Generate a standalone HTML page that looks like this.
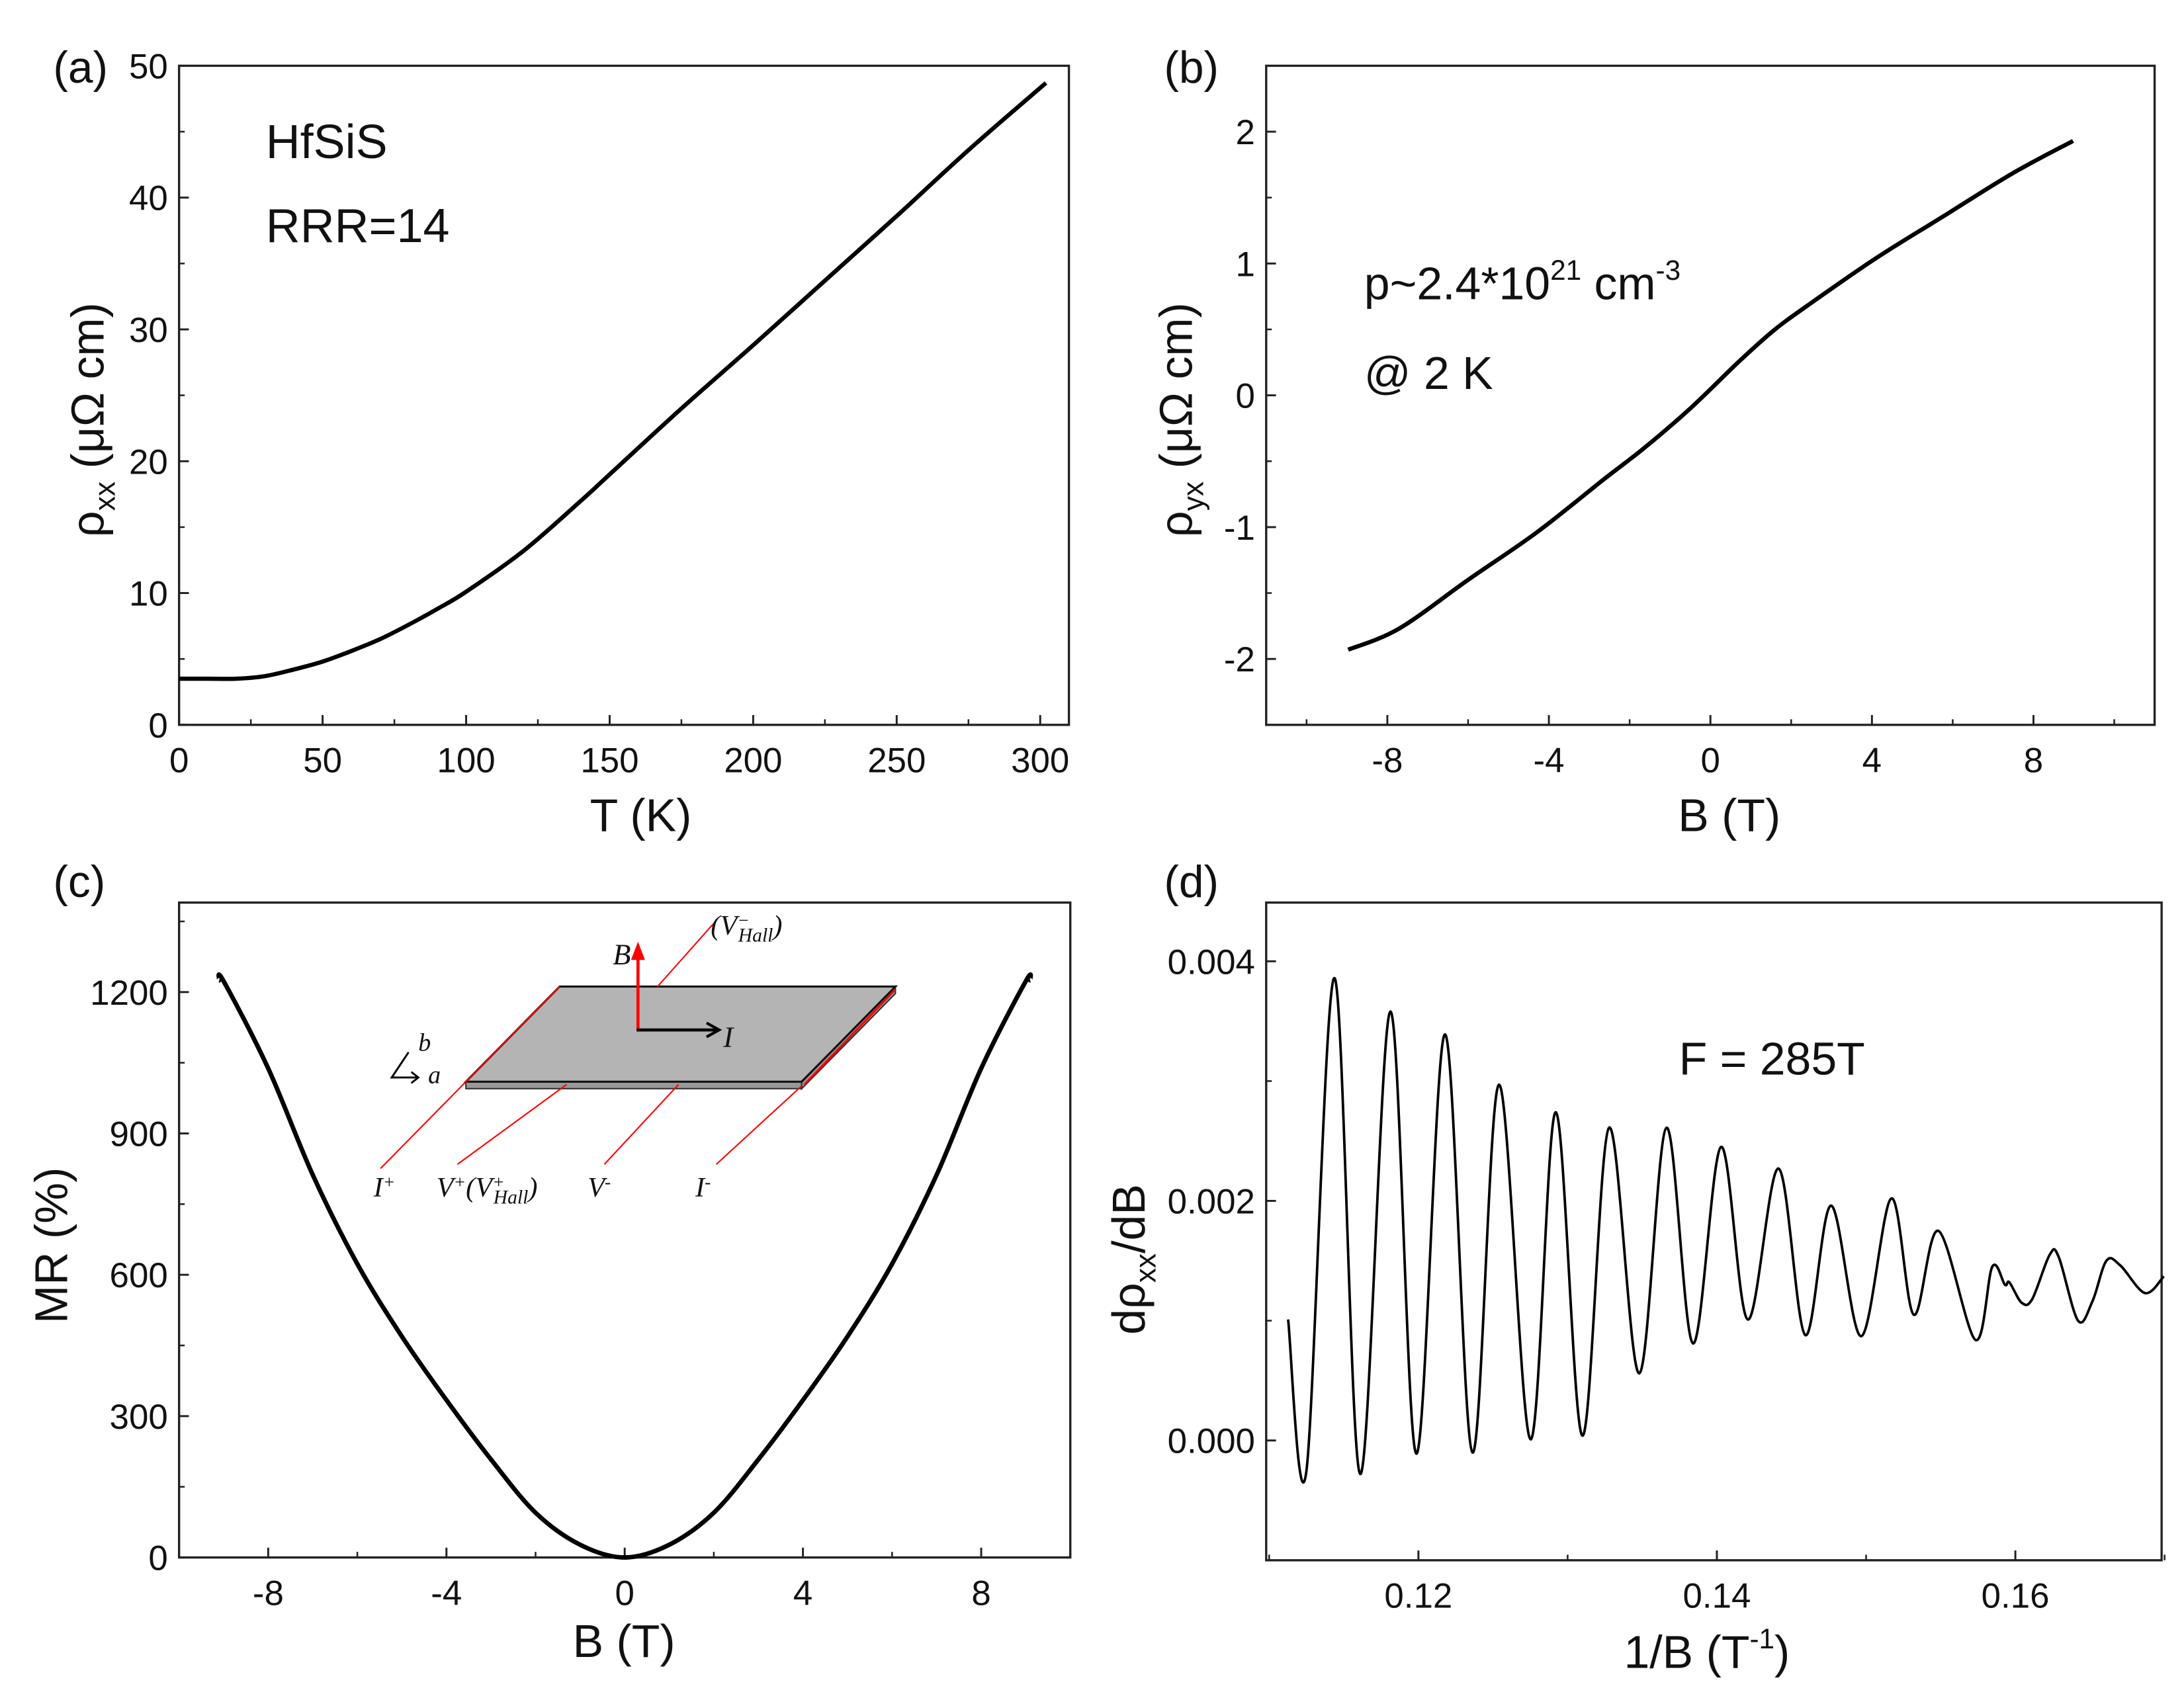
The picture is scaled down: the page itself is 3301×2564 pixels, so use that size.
<!DOCTYPE html>
<html><head><meta charset="utf-8"><style>
html,body{margin:0;padding:0;background:#fff;}
svg{display:block;}
text{font-family:"Liberation Sans",sans-serif;fill:#111;}
.ser{font-family:"Liberation Serif",serif;font-style:italic;}
</style></head><body>
<svg id="fig" width="3301" height="2564" viewBox="0 0 1561 1212" preserveAspectRatio="none" xmlns="http://www.w3.org/2000/svg">
<g id="layer"></g>
</svg>
<script>
// Panel (a) data
const aT = [0,10,20,30,40,50,60,70,80,90,100,120,140,150,175,200,225,250,275,302];
const aRho = [3.5,3.5,3.5,3.7,4.2,4.8,5.6,6.5,7.6,8.8,10.1,13.2,17.0,19.0,24.0,28.8,33.7,38.6,43.6,48.7];
// Panel (b) data
const bB = [-8.97,-7.71,-6.0,-4.3,-2.65,-1.64,-0.5,0.72,1.56,2.4,4.1,5.78,7.46,8.98];
const bRho = [-1.93,-1.77,-1.4,-1.04,-0.64,-0.40,-0.1,0.26,0.49,0.68,1.04,1.36,1.68,1.93];
// Panel (c) data
const cB = [-9.1,-9,-8,-7,-6,-5,-4,-3,-2,-1,0,1,2,3,4,5,6,7,8,9,9.1];
const cMR = [1225,1223,1038,812,623,469,334,208,95,27,0,27,95,208,334,469,623,812,1038,1223,1225];
// Panel (d) data
const dX = [0.11127,0.11249,0.11437,0.1161,0.11812,0.11986,0.12178,0.12362,0.1254,0.12751,0.1292,0.13099,0.13277,0.13479,0.13662,0.1384,0.14028,0.14207,0.14413,0.14592,0.14765,0.14967,0.15169,0.15319,0.15484,0.15732,0.15845,0.1593,0.1596,0.16042,0.16113,0.1623,0.16291,0.1642,0.16516,0.1661,0.16704,0.16869,0.16995];
const dY = [0.00101,-0.00026,0.00386,-0.00028,0.00358,-0.00011,0.00339,-0.0001,0.00297,0.00001,0.00274,0.00004,0.00261,0.00056,0.00261,0.00081,0.00245,0.00101,0.00227,0.00088,0.00196,0.00087,0.00202,0.00105,0.00175,0.00084,0.00145,0.0013,0.00132,0.00115,0.00118,0.00155,0.00153,0.001,0.00116,0.0015,0.00146,0.00123,0.00137];
// tick labels
const aXt = [0,50,100,150,200,250,300];
const aYt = [0,10,20,30,40,50];
const bXt = [-8,-4,0,4,8];
const bYt = [-2,-1,0,1,2];
const cXt = [-8,-4,0,4,8];
const cYt = [0,300,600,900,1200];
const dXt = [0.12,0.14,0.16];
const dYt = [0.000,0.002,0.004];

const NS="http://www.w3.org/2000/svg";
const L=document.getElementById('layer');
function mk(tag,attrs,parent){const e=document.createElementNS(NS,tag);for(const k in attrs)e.setAttribute(k,attrs[k]);(parent||L).appendChild(e);return e;}
function lin(d0,d1,r0,r1){return v=>r0+(v-d0)/(d1-d0)*(r1-r0);}
function spline(pts){let d='M'+pts[0][0]+','+pts[0][1];for(let i=0;i<pts.length-1;i++){const p0=pts[Math.max(0,i-1)],p1=pts[i],p2=pts[i+1],p3=pts[Math.min(pts.length-1,i+2)];const c1x=p1[0]+(p2[0]-p0[0])/6,c1y=p1[1]+(p2[1]-p0[1])/6,c2x=p2[0]-(p3[0]-p1[0])/6,c2y=p2[1]-(p3[1]-p1[1])/6;d+=` C${c1x},${c1y} ${c2x},${c2y} ${p2[0]},${p2[1]}`;}return d;}

function panel(name,box,xd,yd,xt,yt,xminor,yminor,fmtX,fmtY,xs,ys,sw){
  const g=mk('g',{});
  
  
  const X=lin(xd[0],xd[1],box.l,box.r), Y=lin(yd[0],yd[1],box.b,box.t);
  const fr=mk('rect',{x:box.l,y:box.t,width:box.r-box.l,height:box.b-box.t,fill:'none',stroke:'#222','stroke-width':1.6},g);
  
  
  xminor.forEach(v=>{mk('line',{x1:X(v),x2:X(v),y1:box.b,y2:box.b-4,stroke:'#222','stroke-width':1.2},g);});
  yminor.forEach(v=>{mk('line',{x1:box.l,x2:box.l+4,y1:Y(v),y2:Y(v),stroke:'#222','stroke-width':1.2},g);});
  xt.forEach(v=>{mk('line',{x1:X(v),x2:X(v),y1:box.b,y2:box.b-7,stroke:'#222','stroke-width':1.4},g);
    const t=mk('text',{x:X(v),y:box.b+34,'font-size':25,'text-anchor':'middle'},g);t.textContent=fmtX(v);
    
    });
  yt.forEach(v=>{mk('line',{x1:box.l,x2:box.l+7,y1:Y(v),y2:Y(v),stroke:'#222','stroke-width':1.4},g);
    const t=mk('text',{x:box.l-8,y:Y(v)+9,'font-size':25,'text-anchor':'end'},g);t.textContent=fmtY(v);
    
    });
  const pts=xs.map((v,i)=>[X(v),Y(ys[i])]);
  const p=mk('path',{d:spline(pts),fill:'none',stroke:'#000','stroke-width':sw,'stroke-linejoin':'round'},g);
  
  
  return g;
}
function range(a,b,s){const r=[];for(let v=a;v<=b+1e-9;v+=s)r.push(+v.toFixed(6));return r;}

panel('panel-a',{l:128,r:764,t:47,b:518},[0,310],[0,50],aXt,aYt,range(25,300,50),range(5,45,10),v=>v,v=>v,aT,aRho,3);
panel('panel-b',{l:905,r:1540,t:47,b:518},[-11,11],[-2.5,2.5],bXt,bYt,range(-10,10,4),range(-1.5,1.5,1),v=>v,v=>v,bB,bRho,3);
panel('panel-c',{l:128,r:765,t:645,b:1113},[-10,10],[0,1390],cXt,cYt,range(-10,10,4),range(150,1350,300),v=>v,v=>v,cB,cMR,3.2);
panel('panel-d',{l:905,r:1545,t:645,b:1115},[0.1098,0.1698],[-0.001,0.00449],dXt,dYt,range(0.11,0.17,0.01),range(-0.001,0.003,0.002),v=>v.toFixed(2),v=>v.toFixed(3),dX,dY,1.8);

function txt(name,x,y,size,str,extra){const t=mk('text',Object.assign({x:x,y:y,'font-size':size},extra||{}));t.textContent=str;
  
  return t;}
txt('panel-label-a',38,59,32,'(a)');
txt('panel-label-b',832,59,32,'(b)');
txt('panel-label-c',38,641,32,'(c)');
txt('panel-label-d',832,641,32,'(d)');
txt('x-axis-title-a',458,594,33,'T (K)',{'text-anchor':'middle'});
txt('x-axis-title-b',1236,594,33,'B (T)',{'text-anchor':'middle'});
txt('x-axis-title-c',446,1184,33,'B (T)',{'text-anchor':'middle'});
txt('annotation-hfsis',190,113,34,'HfSiS');
txt('annotation-rrr',190,173,34,'RRR=14');
txt('annotation-f',1200,768,33,'F = 285T');
txt('annotation-temp',975,278,33,'@ 2 K');
(function(){const t=mk('text',{x:975,y:214,'font-size':33});
  
  
  t.innerHTML='p~2.4*10<tspan dy="-14" font-size="20">21</tspan><tspan dy="14"> cm</tspan><tspan dy="-14" font-size="20">-3</tspan>';})();
(function(){const t=mk('text',{x:1220,y:1192,'font-size':33,'text-anchor':'middle'});
  
  
  t.innerHTML='1/B (T<tspan dy="-14" font-size="20">-1</tspan><tspan dy="14">)</tspan>';})();
(function(){let t=mk('text',{transform:'translate(74,300) rotate(-90)','font-size':33,'text-anchor':'middle'});
  
  
  t.innerHTML='ρ<tspan dy="8" font-size="21">xx</tspan><tspan dy="-8"> (μΩ cm)</tspan>';
  t=mk('text',{transform:'translate(852,300) rotate(-90)','font-size':33,'text-anchor':'middle'});
  
  
  t.innerHTML='ρ<tspan dy="8" font-size="21">yx</tspan><tspan dy="-8"> (μΩ cm)</tspan>';
  t=mk('text',{transform:'translate(48,890) rotate(-90)','font-size':33,'text-anchor':'middle'});
  
  
  t.textContent='MR (%)';
  t=mk('text',{transform:'translate(818,900) rotate(-90)','font-size':33,'text-anchor':'middle'});
  
  
  t.innerHTML='dρ<tspan dy="8" font-size="21">xx</tspan><tspan dy="-8">/dB</tspan>';})();
// inset
(function(){const g=mk('g',{});
  
  
  mk('polygon',{points:'333,773 573,773 573,778 333,778',fill:'#999',stroke:'#333','stroke-width':1},g);
  mk('polygon',{points:'573,773 640,705 640,710 573,778',fill:'#999',stroke:'#333','stroke-width':1},g);
  mk('polygon',{points:'400,705 640,705 573,773 333,773',fill:'#b4b4b4',stroke:'#111','stroke-width':1.5},g);
  const red='#f00';
  mk('line',{x1:272,y1:835,x2:400,y2:705,stroke:red,'stroke-width':1},g);
  mk('line',{x1:327,y1:832,x2:405,y2:775,stroke:red,'stroke-width':1},g);
  mk('line',{x1:432,y1:832,x2:485,y2:775,stroke:red,'stroke-width':1},g);
  mk('line',{x1:512,y1:832,x2:573,y2:776,stroke:red,'stroke-width':1},g);
  mk('line',{x1:575,y1:775,x2:640,y2:707,stroke:red,'stroke-width':1.5},g);
  mk('line',{x1:470,y1:705,x2:510,y2:660,stroke:red,'stroke-width':1},g);
  mk('line',{x1:456,y1:736,x2:456,y2:682,stroke:red,'stroke-width':2.2},g);
  mk('polygon',{points:'456,673 451,686 461,686',fill:red},g);
  mk('line',{x1:455,y1:736,x2:512,y2:736,stroke:'#000','stroke-width':2.2},g);
  mk('polyline',{points:'505,731 514,736 505,741',fill:'none',stroke:'#000','stroke-width':2},g);
  mk('polyline',{points:'292,752 280,770 298,770',fill:'none',stroke:'#000','stroke-width':1.4},g);
  mk('polyline',{points:'294,766 299,770 294,774',fill:'none',stroke:'#000','stroke-width':1.4},g);
  txt('inset-label-b-field',438,689,21,'B',{'class':'ser'});
  txt('inset-label-current',517,748,21,'I',{'class':'ser'});
  txt('inset-label-b-axis',299,751,18,'b',{'class':'ser'});
  txt('inset-label-a-axis',306,774,18,'a',{'class':'ser'});
  let t=mk('text',{x:508,y:668,'font-size':20,'class':'ser'},g);
  
  
  t.innerHTML='(V<tspan dy="-6" font-size="13">−</tspan><tspan dx="-8" dy="11" font-size="14">Hall</tspan><tspan dy="-5">)</tspan>';
  t=mk('text',{x:267,y:855,'font-size':20,'class':'ser'},g);t.innerHTML='I<tspan dy="-6" font-size="13">+</tspan>';
  
  
  t=mk('text',{x:312,y:855,'font-size':20,'class':'ser'},g);t.innerHTML='V<tspan dy="-6" font-size="13">+</tspan><tspan dy="6">(V</tspan><tspan dy="-6" font-size="13">+</tspan><tspan dx="-8" dy="11" font-size="14">Hall</tspan><tspan dy="-5">)</tspan>';
  
  
  t=mk('text',{x:420,y:855,'font-size':20,'class':'ser'},g);t.innerHTML='V<tspan dy="-6" font-size="13">-</tspan>';
  
  
  t=mk('text',{x:497,y:855,'font-size':20,'class':'ser'},g);t.innerHTML='I<tspan dy="-6" font-size="13">-</tspan>';
  
  
})();
</script>
</body></html>
